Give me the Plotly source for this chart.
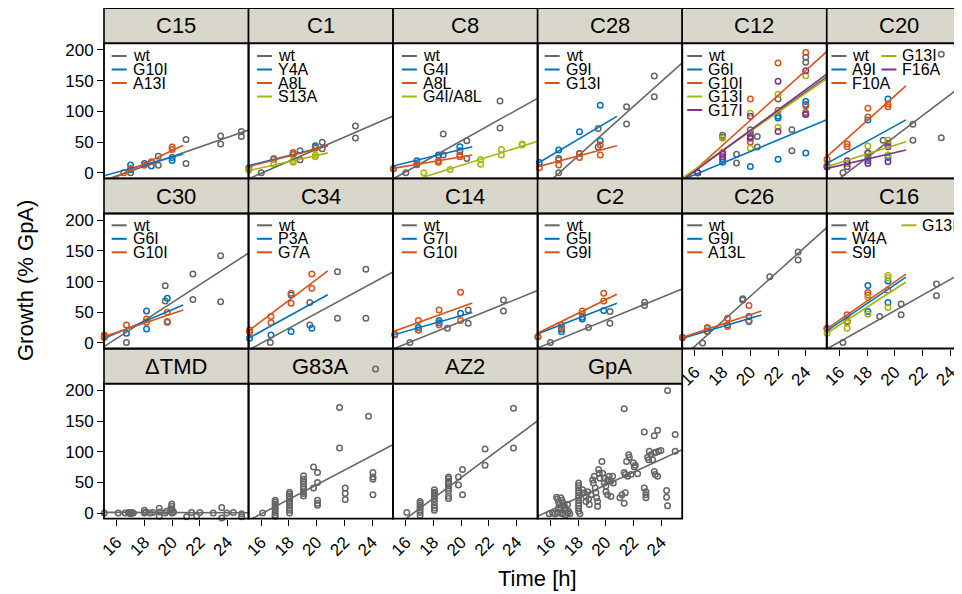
import numpy as np
import plotly.graph_objects as go

# ---------------- data (time [h], growth [% GpA]) ----------------
C15_series = ["wt", "G10I", "A13I"]
C15_time = [[17, 19, 19, 21, 21, 23.5, 23.5, 25, 25],
            [17, 17, 18, 18.5, 20, 20],
            [16.5, 17, 18, 18.5, 20, 20]]
C15_growth = [[0, 27, 12, 54, 15, 60, 47, 67, 59],
              [12.5, 5, 15, 11, 25, 20],
              [0, 7, 12, 18, 42, 38]]
C15_slope = [7.86, 6.2, 10.7]
C15_icpt = [-13, -5.4, -17.3]
C15_end = [25.6, 20.8, 20.8]

C1_series = ["wt", "Y4A", "A8L", "S13A"]
C1_time = [[16, 18.8, 18.8, 20.4, 20.4, 22.8, 22.8],
           [15.1, 16.9, 18.3, 19.9, 19.9],
           [15.1, 16.9, 18.3, 18.3, 19.9],
           [15.1, 16.9, 18.3, 18.3, 19.9, 19.9]]
C1_growth = [[0, 36, 21, 49.5, 39, 76, 56.5],
             [8, 22, 30, 44, 41],
             [7, 23, 33, 30, 40],
             [4, 14, 17, 20, 26, 29]]
C1_slope = [9.83, 5.64, 5.9, 5.07]
C1_icpt = [-10.8, 11.0, 9.3, 2.9]
C1_end = [25.6, 20.8, 20.8, 20.8]

C8_series = ["wt", "G4I", "A8L", "G4I/A8L"]
C8_time = [[16, 16.8, 18.7, 18.7, 20.4, 20.4, 22.8, 22.8],
           [15.1, 16.8, 18.35, 19.9, 19.9],
           [15.1, 16.8, 18.35, 18.35, 19.9, 19.9],
           [17.3, 19.2, 21.4, 21.4, 22.9, 22.9, 24.4, 24.4]]
C8_growth = [[0, 13, 63, 29, 52, 23, 117, 73],
             [7, 19.6, 28.8, 42.4, 36],
             [6, 14, 19.6, 17, 28.8, 26],
             [0, 5.4, 21.7, 14, 38, 28.8, 46.7, 45]]
C8_slope = [12.6, 5.5, 3.84, 7.09]
C8_icpt = [-11.2, 10.5, 6.7, -23.4]
C8_end = [25.6, 20.8, 20.8, 25.6]

C28_series = ["wt", "G9I", "G13I"]
C28_time = [[16.6, 18.1, 19.45, 19.45, 21.5, 21.5, 23.5, 23.5],
            [15.2, 16.6, 16.6, 18.1, 19.6, 19.6],
            [15.2, 16.6, 16.6, 18.1, 18.1, 19.6, 19.6]]
C28_growth = [[0, 31.5, 72, 42, 107.6, 79.3, 157.6, 123.9],
              [16.8, 37, 23, 66.8, 110, 52],
              [8, 20.6, 12.5, 31.5, 25, 45, 28.8]]
C28_slope = [20.2, 13.4, 6.0]
C28_icpt = [-33.3, 14.1, 9.3]
C28_end = [25.6, 20.8, 20.8]

C12_series = ["wt", "G6I", "G10I", "G13I", "G17I"]
C12_time = [[18, 18, 19, 19, 20, 20, 20.5, 20.5, 22, 23, 23, 24, 24, 24],
            [16.2, 18, 18, 20, 22, 22, 22, 24, 24, 24],
            [16.2, 18, 20, 20, 22, 22, 24, 24, 24],
            [16.2, 18, 20, 20, 22, 22, 24],
            [16.2, 18, 18, 20, 20, 20, 22, 22, 24, 24]]
C12_growth = [[61, 58, 30, 16, 70, 64, 59, 42, 120, 70, 36, 188, 180, 98],
              [0, 17, 22, 10, 92, 89, 22, 116, 111, 32],
              [0, 33, 120, 50, 179, 102, 196, 109, 95],
              [0, 56, 97, 40, 128, 74, 158],
              [0, 30, 26, 92, 59, 56, 149, 67, 166, 95]]
C12_slope = [16.0, 9.4, 20.3, 15.5, 16.6]
C12_icpt = [-12, -12.4, -16, -10, -14]
C12_end = [25.6, 25.6, 25.6, 25.6, 25.6]

C20_series = ["wt", "A9I", "F10A", "G13I", "F16A"]
C20_time = [[16.25, 18.05, 19.15, 19.5, 21.3, 21.3, 23.35, 23.35],
            [15.1, 16.55, 18.05, 18.05, 19.5, 19.5],
            [15.1, 16.55, 16.55, 18.05, 18.05, 19.5, 19.5],
            [15.1, 16.55, 18.05, 18.05, 19.5, 19.5],
            [15.1, 16.55, 16.55, 18.05, 18.05, 19.5, 19.5]]
C20_growth = [[0, 26, 53, 48, 79, 53, 193, 57],
              [9.8, 15, 86, 20, 120, 25],
              [21.7, 46.7, 42.4, 105, 91, 112, 107.6],
              [12.5, 15.2, 43.5, 31.5, 53, 28.8],
              [9.8, 19.6, 9.8, 32.6, 15.2, 42.4, 18]]
C20_slope = [17.1, 12.4, 20.2, 7.1, 5.26]
C20_icpt = [-26.6, 14.2, 24.4, 9.2, 6.6]
C20_end = [25.6, 20.8, 20.8, 20.8, 20.8]

C30_series = ["wt", "G6I", "G10I"]
C30_time = [[16.7, 19.5, 19.5, 21.5, 21.5, 23.5, 23.5],
            [15.1, 16.7, 18.15, 18.15, 19.65, 19.65],
            [15.1, 15.1, 16.7, 18.15, 18.15, 19.65, 19.65]]
C30_growth = [[0.5, 93, 68.5, 112.5, 70.7, 142, 67],
              [10, 15.8, 52, 22.8, 72.8, 33.7],
              [13, 8.7, 29.3, 39, 33.7, 50, 34.8]]
C30_slope = [14.6, 9.5, 7.6]
C30_icpt = [-7.2, 6.8, 9.7]
C30_end = [25.6, 20.8, 20.8]

C34_series = ["wt", "P3A", "G7A"]
C34_time = [[16.65, 19.5, 19.5, 21.5, 21.5, 23.55, 23.55],
            [15.15, 16.7, 18.15, 18.15, 19.65],
            [15.15, 15.15, 16.7, 16.7, 18.15, 18.15, 19.65, 19.65]]
C34_growth = [[0.5, 66, 29.3, 115.8, 40.2, 120, 40.2],
              [7.6, 13, 18.5, 78, 24],
              [21, 17.4, 43, 33, 81, 64.7, 112.5, 89]]
C34_slope = [12.2, 12.4, 17.1]
C34_icpt = [-12.6, 6.6, 18.2]
C34_end = [25.6, 20.8, 20.8]

C14_series = ["wt", "G7I", "G10I"]
C14_time = [[16.3, 19.0, 20.5, 20.5, 23.05, 23.05],
            [15.2, 16.9, 16.9, 18.4, 18.4, 19.95],
            [15.2, 16.9, 16.9, 18.4, 18.4, 19.95, 19.95]]
C14_growth = [[0.5, 24, 53.8, 32, 70, 52],
              [14, 25, 21, 36.4, 33, 48.4],
              [13, 36.4, 21.2, 53.8, 29.3, 82.6, 36.4]]
C14_slope = [9.14, 6.4, 8.1]
C14_icpt = [-10.7, 12.5, 17.9]
C14_end = [25.6, 20.8, 20.8]

C2_series = ["wt", "G5I", "G9I"]
C2_time = [[16, 18.75, 20.3, 20.3, 22.8, 22.8],
           [15.1, 16.8, 16.8, 18.3, 18.3, 19.85],
           [15.1, 16.8, 16.8, 18.3, 18.3, 19.85, 19.85]]
C2_growth = [[0.5, 25, 51, 32, 66.3, 60.9],
             [10, 22.3, 18, 39, 42, 52.7],
             [10, 29.3, 25, 52, 46.7, 68.5, 81]]
C2_slope = [9.23, 8.75, 11.1]
C2_icpt = [-9, 14, 15]
C2_end = [25.6, 20.8, 20.8]

C26_series = ["wt", "G9I", "A13L"]
C26_time = [[16.55, 16.9, 19.45, 19.45, 21.4, 23.45, 23.45],
            [15.1, 16.9, 18.35, 19.9, 19.9],
            [15.1, 16.9, 16.9, 18.35, 18.35, 19.9, 19.9]]
C26_growth = [[0, 19.6, 70, 72, 108, 148, 135],
              [8.7, 24, 29.3, 43, 34.8],
              [8.7, 25, 18.5, 40, 26.6, 61, 36]]
C26_slope = [20.3, 6.6, 7.6]
C26_icpt = [-25.5, 7.1, 8.1]
C26_end = [25.6, 20.8, 20.8]

C16_series = ["wt", "W4A", "S9I", "G13I"]
C16_time = [[16.25, 18.9, 20.45, 20.45, 23, 23],
            [15.1, 16.55, 18.05, 18.05, 19.5, 19.5],
            [15.1, 16.55, 16.55, 18.05, 18.05, 19.5],
            [15.1, 16.55, 16.55, 18.05, 18.05, 19.5, 19.5, 19.5]]
C16_growth = [[0.5, 43, 63.6, 45.7, 96, 77],
              [22.8, 35, 93.5, 51, 101, 66],
              [24, 45.7, 34.8, 82, 78, 86],
              [15.8, 24, 33, 74, 46.7, 110, 105.7, 57.6]]
C16_slope = [12.7, 15.3, 15.6, 14.6]
C16_icpt = [-11, 18.4, 21.6, 14.6]
C16_end = [25.6, 20.8, 20.8, 20.8]

DTMD_time = [15.1, 16.11, 16.6, 16.84, 16.9, 17.0, 17.08, 17.2, 18.0, 18.0, 18.1, 18.4,
             18.6, 19.07, 19.07, 19.1, 19.5, 19.6, 19.9, 19.97, 19.97, 20.0, 20.0, 20.1,
             21.05, 21.4, 21.77, 22.0, 22.97, 23.58, 23.58, 23.94, 24.42, 25.02, 25.02]
DTMD_growth = [0, 0, 0, 1, 0, -1, 1, 0, 4.5, 0, 2, 0,
               1, 8, -5, 2, 0, 3, 7, 15, 11, 0, 5, 2,
               -6, 1, -5, 1, 0, 9, -8, 0, 1, -1, -6]
DTMD_slope = [-0.05]
DTMD_icpt = [1.2]

G83A_time = [16.09] + [17.0] * 9 + [18.04] * 11 + [19.05] * 9 + \
            [19.77, 19.77, 20.06, 20.06, 20.06, 20.06, 20.06, 21.65, 21.65, 22.06, 22.06,
             22.06, 23.74, 24.06, 24.06, 24.06, 24.06, 24.25]
G83A_growth = [0, 21, 18, 15, 12, 8, 5.5, 1, -3, -5,
               34, 31, 28, 26, 23, 19, 16, 12, 8, 4.5, 0,
               61, 55, 51, 48, 43, 39, 35, 32, 28,
               75, 41, 66, 50, 21, 16, 13, 172, 106, 41, 32,
               22, 158, 66, 59, 55, 30, 235]
G83A_slope = [11.87]
G83A_icpt = [-13.1]

AZ2_time = [16.07] + [17.03] * 7 + [18.06] * 9 + [19.08] * 9 + \
           [19.8, 19.8, 20.09, 20.09, 21.72, 21.72, 23.77, 23.77]
AZ2_growth = [1, 19, 16, 13, 9, 5.5, 1, -4,
              38, 34, 32, 28, 23.5, 18, 12.6, 8.3, 4.5,
              59, 56, 52, 48.5, 44, 40, 36, 28, 24,
              59, 46, 71, 30, 104.5, 78, 171, 106]
AZ2_slope = [16.8]
AZ2_icpt = [-26]

GpA_time = [15.92, 16.16, 16.35, 16.52, 16.69, 16.88, 17.08, 17.24, 17.41,
            16.45, 16.52, 16.59, 16.64, 16.76, 16.83, 16.93, 17.0, 17.08, 17.12, 17.24, 17.32, 16.59, 16.76,
            18.04, 18.04, 18.04, 18.04, 18.04, 18.04, 18.04, 18.04, 18.04, 18.04, 18.04, 18.04, 18.13,
            18.33, 18.45, 18.57, 18.57, 18.69, 18.76, 18.81, 18.93,
            19.05, 19.1, 19.17, 19.24, 19.29, 19.34, 19.41, 19.41, 19.48, 19.53, 19.58,
            19.72,
            19.77, 19.89, 19.89, 20.01, 20.01, 20.13, 20.13, 20.25, 20.37, 20.37, 20.49, 20.54,
            21.33,
            21.02, 21.17, 21.33, 21.41, 21.33, 21.41, 21.5, 21.58, 21.65, 21.7, 21.82, 21.99, 22.06, 22.13, 22.3,
            22.78, 22.78, 22.9, 22.9, 22.9, 23.02, 23.09, 23.26, 23.14,
            23.5, 23.74, 23.5, 23.57, 23.74, 23.38, 23.5, 23.62, 23.81, 23.98,
            24.46, 24.39, 24.39, 24.46,
            25.01, 25.01]
GpA_growth = [-1, 0, -1, 1, 0, -1, -3, 0, -1,
              26, 23, 19, 15, 25, 21, 16, 12, 8, 4.5, 14, 3, 8, 5.5,
              49, 45, 41, 37, 33, 28, 25, 21, 16, 12, 8, 3, -1,
              38, 33, 27, 19, 35, 23, 14, 30,
              54, 49, 60, 41, 33, 25, 19, 11, 71, 65, 57,
              84,
              65, 57, 49, 44, 35, 54, 30, 60, 52, 27, 60, 49,
              170,
              25, 30, 16, 33, 66, 63, 84, 60, 95, 91, 63, 82, 75, 78, 64,
              132, 41, 35, 30, 25, 91, 87, 95, 101,
              126, 135, 68, 63, 60, 87, 98, 99, 101, 102,
              200, 37, 26, 12,
              128, 101]
GpA_slope = [10.4]
GpA_icpt = [-6]

X_TICKS = [16, 18, 20, 22, 24]
Y_TICKS = [0, 50, 100, 150, 200]

# ---------------- styling / geometry ----------------
W, H = 962, 594
PAGE_OFF = 8.0            # browser default body margin
FONT = "Liberation Sans, Arial, sans-serif"
PALETTE = ["#666666", "#0072BD", "#D95319", "#A8B40E", "#7E2F8E"]
STRIP_FILL = "#D9D7CB"

X_LEFT0, PW, PX_PER_H, T0 = 104.0, 144.55, 13.85, 15.08
STRIP_TOP0, ROW_STEP, STRIP_H, PH = 8.3, 170.2, 35.0, 135.0
Y_LO, Y_HI = -9.1, 210.9
PX_PER_UNIT = PH / (Y_HI - Y_LO)
LEG_OFF = [7.7, 8.4, 8.7, 7.0, 5.0, 4.7]

# (title, row, col, series, times, growth, slopes, intercepts, line ends, legend rows, 2nd legend column offset)
panels = [
    ("C15", 0, 0, C15_series, C15_time, C15_growth, C15_slope, C15_icpt, C15_end, 3, 0),
    ("C1", 0, 1, C1_series, C1_time, C1_growth, C1_slope, C1_icpt, C1_end, 4, 0),
    ("C8", 0, 2, C8_series, C8_time, C8_growth, C8_slope, C8_icpt, C8_end, 4, 0),
    ("C28", 0, 3, C28_series, C28_time, C28_growth, C28_slope, C28_icpt, C28_end, 3, 0),
    ("C12", 0, 4, C12_series, C12_time, C12_growth, C12_slope, C12_icpt, C12_end, 5, 0),
    ("C20", 0, 5, C20_series, C20_time, C20_growth, C20_slope, C20_icpt, C20_end, 3, 50),
    ("C30", 1, 0, C30_series, C30_time, C30_growth, C30_slope, C30_icpt, C30_end, 3, 0),
    ("C34", 1, 1, C34_series, C34_time, C34_growth, C34_slope, C34_icpt, C34_end, 3, 0),
    ("C14", 1, 2, C14_series, C14_time, C14_growth, C14_slope, C14_icpt, C14_end, 3, 0),
    ("C2", 1, 3, C2_series, C2_time, C2_growth, C2_slope, C2_icpt, C2_end, 3, 0),
    ("C26", 1, 4, C26_series, C26_time, C26_growth, C26_slope, C26_icpt, C26_end, 3, 0),
    ("C16", 1, 5, C16_series, C16_time, C16_growth, C16_slope, C16_icpt, C16_end, 3, 70),
    ("ΔTMD", 2, 0, ["wt"], [DTMD_time], [DTMD_growth], DTMD_slope, DTMD_icpt, [25.6], 0, 0),
    ("G83A", 2, 1, ["wt"], [G83A_time], [G83A_growth], G83A_slope, G83A_icpt, [25.6], 0, 0),
    ("AZ2", 2, 2, ["wt"], [AZ2_time], [AZ2_growth], AZ2_slope, AZ2_icpt, [25.6], 0, 0),
    ("GpA", 2, 3, ["wt"], [GpA_time], [GpA_growth], GpA_slope, GpA_icpt, [25.6], 0, 0),
]


def px(x):
    return (x - PAGE_OFF) / W


def py(y):
    return 1 - (y - PAGE_OFF) / H


fig = go.Figure()
shapes, annotations, layout_axes = [], [], {}

for k, (title, row, col, names, times, growth, slopes, icpts, ends, nrow, col2) in enumerate(panels, start=1):
    L = X_LEFT0 + PW * col
    R_full = L + PW
    R = min(R_full, W + PAGE_OFF)
    stop = STRIP_TOP0 + ROW_STEP * row
    top = stop + STRIP_H
    bot = top + PH
    xa, ya = f"x{k}", f"y{k}"
    bottom_panel = (row == 2) or (row == 1 and col >= 4)
    left_panel = col == 0

    layout_axes[f"xaxis{k}"] = dict(
        domain=[px(L), px(R)], range=[T0, T0 + (R - L) / PX_PER_H], anchor=ya,
        automargin=False, showgrid=False, zeroline=False, showline=False,
        tickvals=X_TICKS, ticks="outside" if bottom_panel else "",
        showticklabels=bottom_panel, tickangle=-45, ticklen=6, tickwidth=1.3,
        tickcolor="black", tickfont=dict(size=17, color="black", family=FONT))
    # the y axis spans panel + strip so that points above the panel (drawn over the strip) stay in range
    layout_axes[f"yaxis{k}"] = dict(
        domain=[py(bot), py(stop)], range=[Y_LO, Y_HI + STRIP_H / PX_PER_UNIT], anchor=xa,
        automargin=False, showgrid=False, zeroline=False, showline=False,
        tickvals=Y_TICKS, ticks="outside" if left_panel else "",
        showticklabels=left_panel, ticklen=6, tickwidth=1.3,
        tickcolor="black", tickfont=dict(size=17, color="black", family=FONT))

    for i, name in enumerate(names):
        color = PALETTE[i]
        fig.add_trace(go.Scatter(
            x=times[i], y=growth[i], mode="markers", xaxis=xa, yaxis=ya,
            marker=dict(symbol="circle-open", size=5.5, color=color, line=dict(width=1.5, color=color)),
            cliponaxis=False, showlegend=False, name=name, hoverinfo="x+y+name"))
    for i, name in enumerate(names):
        color = PALETTE[i]
        xl = np.array([15.0, ends[i]])
        yl = icpts[i] + slopes[i] * (xl - 15.0)
        fig.add_trace(go.Scatter(
            x=xl, y=yl, mode="lines", xaxis=xa, yaxis=ya,
            line=dict(color=color, width=1.6), showlegend=False, name=name, hoverinfo="skip"))

    # strip
    shapes.append(dict(type="rect", xref="paper", yref="paper", x0=px(L), x1=px(R_full),
                       y0=py(top), y1=py(stop), fillcolor=STRIP_FILL,
                       line=dict(color="black", width=1.6), layer="below"))
    annotations.append(dict(text=title, xref="paper", yref="paper", x=px(L + PW / 2), y=py(stop + STRIP_H / 2),
                            xanchor="center", yanchor="middle", showarrow=False,
                            font=dict(size=22, color="black", family=FONT)))
    # panel border
    shapes.append(dict(type="rect", xref="paper", yref="paper", x0=px(L), x1=px(R_full),
                       y0=py(bot), y1=py(top), line=dict(color="black", width=1.8), layer="above"))

    # in-panel legend
    if nrow:
        for i, name in enumerate(names):
            c_idx, r_idx = divmod(i, nrow)
            lx = L + LEG_OFF[col] + c_idx * col2
            ly = top + (12.7 if row == 0 else 11.8) + 13.5 * r_idx
            shapes.append(dict(type="line", xref="paper", yref="paper", x0=px(lx), x1=px(lx + 15),
                               y0=py(ly), y1=py(ly), line=dict(color=PALETTE[i], width=2), layer="above"))
            annotations.append(dict(text=name, xref="paper", yref="paper", x=px(lx + 19), y=py(ly),
                                    xanchor="left", yanchor="middle", showarrow=False,
                                    font=dict(size=16, color="black", family=FONT)))

annotations.append(dict(text="Growth (% GpA)", xref="paper", yref="paper", x=px(25), y=py(281),
                        textangle=-90, xanchor="center", yanchor="middle", showarrow=False,
                        font=dict(size=22, color="black", family=FONT)))
annotations.append(dict(text="Time [h]", xref="paper", yref="paper", x=px(537), y=py(578),
                        xanchor="center", yanchor="middle", showarrow=False,
                        font=dict(size=22, color="black", family=FONT)))

fig.update_layout(
    width=W, height=H, margin=dict(l=0, r=0, t=0, b=0),
    paper_bgcolor="white", plot_bgcolor="rgba(0,0,0,0)",
    shapes=shapes, annotations=annotations, showlegend=False,
    font=dict(family=FONT, color="black"),
    **layout_axes)

fig.write_html("out.html")
